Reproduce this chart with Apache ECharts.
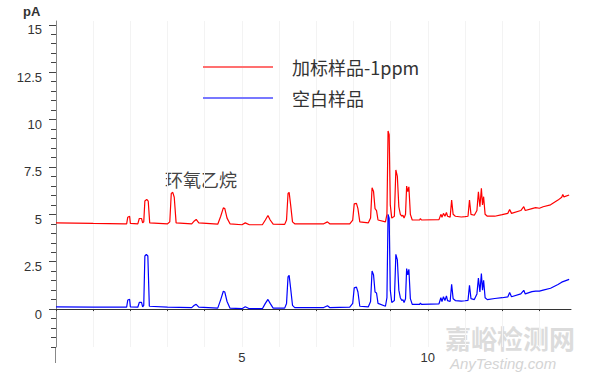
<!DOCTYPE html>
<html><head><meta charset="utf-8">
<script src="https://cdn.jsdelivr.net/npm/echarts@6/dist/echarts.min.js"></script>
<style>html,body{margin:0;padding:0;background:#fff}#c{width:597px;height:385px}</style>
</head><body><div id="c"></div>
<script>
// Data (retention time in min, signal in pA)
var seriesNames = ['加标样品-1ppm', '空白样品'];
var redSeries = [
[0,4.55],[1.0,4.52],[1.85,4.5],[1.9,4.5],[1.93,4.85],[1.98,4.9],[2.0,4.52],[2.2,4.5],[2.24,4.78],[2.3,4.78],[2.33,4.55],[2.36,4.6],[2.39,5.7],[2.44,5.79],[2.48,5.7],[2.52,4.55],
[3.0,4.5],[3.06,4.6],[3.1,6.1],[3.14,6.16],[3.18,5.9],[3.23,4.55],[3.65,4.5],[3.72,4.65],[3.77,4.73],[3.84,4.55],[4.35,4.48],[4.43,4.9],[4.5,5.34],[4.54,5.3],[4.6,4.8],[4.68,4.5],
[5.0,4.45],[5.09,4.55],[5.2,4.45],[5.55,4.45],[5.63,4.7],[5.7,4.94],[5.76,4.7],[5.84,4.48],[6.15,4.47],[6.2,4.7],[6.24,6.1],[6.27,6.16],[6.31,5.5],[6.36,4.6],[6.42,4.5],
[7.2,4.5],[7.3,4.6],[7.36,4.5],[7.9,4.5],[7.98,4.7],[8.02,5.55],[8.08,5.58],[8.12,5.3],[8.17,4.6],[8.4,4.55],[8.46,4.8],[8.5,6.4],[8.54,6.2],[8.58,5.3],[8.62,5.2],[8.66,4.7],
[8.86,4.6],[8.9,5.0],[8.93,9.4],[8.96,9.2],[8.99,5.5],[9.03,4.8],[9.1,4.9],[9.14,7.34],[9.18,7.0],[9.22,5.4],[9.26,5.0],[9.3,4.9],[9.33,4.96],[9.36,4.8],[9.4,5.0],[9.43,6.49],[9.46,6.2],[9.49,6.45],[9.53,5.0],[9.58,4.7],
[9.78,4.7],[9.8,4.78],[9.83,4.7],[10.3,4.72],[10.35,5.0],[10.38,4.85],[10.42,5.05],[10.46,4.9],[10.5,5.1],[10.53,4.9],[10.6,4.85],[10.64,5.75],[10.68,5.0],[10.74,4.9],[10.9,4.86],[11.0,4.88],[11.08,4.9],[11.12,5.75],[11.16,5.0],
[11.25,4.95],[11.32,5.2],[11.36,6.19],[11.4,5.4],[11.44,6.37],[11.47,5.5],[11.5,5.93],[11.54,5.0],[11.6,4.9],[11.8,4.9],[12.0,4.98],[12.15,5.05],[12.2,5.26],[12.25,5.05],[12.5,5.2],[12.58,5.4],[12.62,5.2],
[12.8,5.3],[12.9,5.35],[13.0,5.32],[13.1,5.4],[13.3,5.5],[13.5,5.75],[13.6,5.9],[13.63,6.05],[13.66,5.92],[13.8,6.02]
];
var blueSeries = [
[0,0.12],[1.0,0.1],[1.85,0.1],[1.9,0.1],[1.93,0.48],[1.98,0.51],[2.0,0.12],[2.2,0.1],[2.24,0.35],[2.3,0.35],[2.33,0.12],[2.36,0.2],[2.39,2.8],[2.43,2.88],[2.47,2.8],[2.51,0.15],
[3.0,0.1],[3.65,0.08],[3.72,0.2],[3.77,0.25],[3.84,0.1],[4.35,0.05],[4.43,0.5],[4.5,0.94],[4.54,0.9],[4.6,0.4],[4.68,0.05],
[5.0,0.02],[5.09,0.12],[5.2,0.02],[5.55,0.02],[5.63,0.3],[5.7,0.51],[5.76,0.3],[5.84,0.05],[6.15,0.05],[6.2,0.3],[6.24,1.7],[6.27,1.78],[6.31,1.1],[6.36,0.2],[6.42,0.08],
[7.2,0.08],[7.3,0.18],[7.36,0.08],[7.9,0.1],[7.98,0.3],[8.02,1.12],[8.08,1.16],[8.12,0.9],[8.17,0.15],[8.4,0.12],[8.46,0.4],[8.5,2.01],[8.54,1.8],[8.58,0.9],[8.62,0.85],[8.66,0.3],
[8.86,0.15],[8.9,0.6],[8.93,5.0],[8.96,4.8],[8.99,1.0],[9.03,0.35],[9.1,0.45],[9.14,2.89],[9.18,2.6],[9.22,1.0],[9.26,0.6],[9.3,0.45],[9.33,0.5],[9.36,0.35],[9.4,0.55],[9.43,2.14],[9.46,1.8],[9.49,2.1],[9.53,0.55],[9.58,0.25],
[9.78,0.25],[9.8,0.32],[9.83,0.25],[10.3,0.28],[10.35,0.6],[10.38,0.4],[10.42,0.65],[10.46,0.45],[10.5,0.7],[10.53,0.45],[10.6,0.4],[10.64,1.31],[10.68,0.55],[10.74,0.45],[10.9,0.42],[11.0,0.44],[11.08,0.46],[11.12,1.25],[11.16,0.55],
[11.25,0.5],[11.32,0.8],[11.36,1.64],[11.4,0.9],[11.44,1.87],[11.47,1.0],[11.5,1.52],[11.54,0.6],[11.6,0.5],[11.8,0.56],[12.0,0.6],[12.15,0.64],[12.2,0.87],[12.25,0.65],[12.5,0.8],[12.58,0.99],[12.62,0.8],
[12.8,0.92],[12.9,0.95],[13.0,0.95],[13.1,1.0],[13.3,1.1],[13.5,1.3],[13.6,1.42],[13.8,1.57]
];
var yMajorTicks = [0, 2.5, 5, 7.5, 10, 12.5, 15];
var yMinorTicks = [-2,-1.5,-1,-0.5,0,0.5,1,1.5,2,2.5,3,3.5,4,4.5,5,5.5,6,6.5,7,7.5,8,8.5,9,9.5,10,10.5,11,11.5,12,12.5,13,13.5,14,14.5,15];
var xTicks = [0,1,2,3,4,5,6,7,8,9,10,11,12,13];
var xLabels = [5, 10];
var yUnit = 'pA';
var annotation = '环氧乙烷';

var chart = echarts.init(document.getElementById('c'), null, {renderer: 'svg'});
var lblFont = 'Liberation Sans';
chart.setOption({
  animation: false,
  backgroundColor: '#fff',
  grid: {left: 56, right: 26, top: 21, bottom: 38, containLabel: false},
  legend: {
    orient: 'vertical', left: 203, top: 58, itemGap: 13, padding: 0,
    itemWidth: 70, itemHeight: 2, icon: 'rect',
    textStyle: {fontSize: 18, color: '#333', fontFamily: 'Noto Sans CJK SC', padding: [0, 0, 0, 14]},
    data: [
      {name: seriesNames[0], itemStyle: {color: '#ff7070'}},
      {name: seriesNames[1], itemStyle: {color: '#7878ff'}}
    ]
  },
  xAxis: {
    type: 'value', min: 0, max: 13.85,
    axisLine: {lineStyle: {color: '#333', width: 1}},
    axisTick: {show: true, length: 2, customValues: xTicks, lineStyle: {color: '#333'}},
    axisLabel: {customValues: xLabels, color: '#333', fontSize: 13, fontFamily: lblFont, margin: 4},
    splitLine: {show: true, lineStyle: {color: '#f3f3f3', width: 1}}
  },
  yAxis: [{
    type: 'value', min: -2, max: 15.2,
    axisLine: {show: true, lineStyle: {color: '#888', width: 1}},
    axisTick: {show: true, length: 5, customValues: yMinorTicks, lineStyle: {color: '#444'}},
    axisLabel: {customValues: yMajorTicks, color: '#333', fontSize: 13, fontFamily: lblFont, margin: 14, verticalAlign: 'top', lineHeight: 10},
    splitLine: {show: false}
  }, {
    type: 'value', min: -2, max: 15.2, position: 'left',
    axisLine: {show: false},
    axisTick: {show: true, length: 7, customValues: yMajorTicks, lineStyle: {color: '#444'}},
    axisLabel: {show: false},
    splitLine: {show: false}
  }],
  graphic: [
    {type: 'line', shape: {x1: 55.5, y1: 347, x2: 55.5, y2: 363}, style: {stroke: '#888', lineWidth: 1}},
    {type: 'text', left: 23, top: 5, style: {text: yUnit, font: 'bold 13px "Liberation Sans"', fill: '#333'}},
    {type: 'text', left: 165, top: 170, style: {text: annotation, font: '18px "Noto Sans CJK SC"', fill: '#444'}},
    {type: 'text', left: 445, top: 324, style: {text: '嘉峪检测网', font: 'bold 26px "Noto Sans CJK SC"', fill: '#dcdcdc'}},
    {type: 'text', left: 450, top: 356, style: {text: 'AnyTesting.com', font: 'italic 15px "Liberation Sans"', fill: '#d4d4d4'}}
  ],
  series: [
    {name: seriesNames[1], type: 'line', data: blueSeries, showSymbol: false, symbol: 'none', z: 2,
     lineStyle: {color: '#0000ff', width: 1.2}, itemStyle: {color: '#0000ff'}},
    {name: seriesNames[0], type: 'line', data: redSeries, showSymbol: false, symbol: 'none', z: 3,
     lineStyle: {color: '#ff0000', width: 1.2}, itemStyle: {color: '#ff0000'}}
  ]
});
</script></body></html>
